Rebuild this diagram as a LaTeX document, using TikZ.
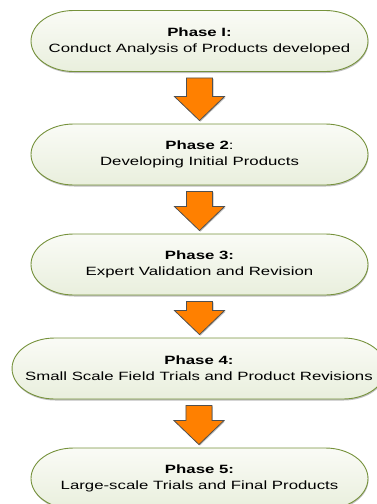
\documentclass[tikz,border=0pt]{standalone}
\usepackage{fontspec}
\setmainfont{Liberation Sans}
\usetikzlibrary{shapes.misc,calc,shadows}
\definecolor{boxline}{RGB}{118,146,60}
\definecolor{boxtop}{RGB}{250,251,246}
\definecolor{boxbot}{RGB}{233,239,221}
\definecolor{arrfill}{RGB}{255,128,0}
\definecolor{arrline}{RGB}{80,80,80}
\tikzset{
  phasebox/.style={rounded rectangle, draw=boxline, line width=0.9pt,
    top color=boxtop, bottom color=boxbot,
    minimum height=61pt, minimum width=240.7pt, inner sep=0pt,
    align=center, font=\fontsize{12}{16}\selectfont,
    drop shadow={shadow xshift=0.5pt, shadow yshift=-1.5pt, opacity=0.25, fill=black}},
  blockarr/.style={draw=arrline, line width=0.8pt, fill=arrfill, line join=miter,
    drop shadow={shadow xshift=1pt, shadow yshift=-1pt, opacity=0.25, fill=black}}
}
\newcommand\phasearrow[2]{%
  \draw[blockarr] let \p1=(#1.south), \p2=(#2.north) in
    (\x1-13pt,\y1-6pt) -- (\x1+13pt,\y1-6pt) -- (\x1+13pt,\y2+27pt) --
    (\x1+25pt,\y2+27pt) -- (\x1,\y2+3pt) -- (\x1-25pt,\y2+27pt) --
    (\x1-13pt,\y2+27pt) -- cycle;}
\begin{document}
\begin{tikzpicture}[x=1pt,y=1pt]
\useasboundingbox (0,0) rectangle (377,-504);
\clip (0,0) rectangle (377,-504);
\begin{scope}[xscale=1.4, transform shape]
  \node[phasebox] (b1) at (142.5,-41) {\textbf{Phase I:}\\Conduct Analysis of Products developed};
  \node[phasebox] (b2) at (142.5,-154.5) {\textbf{Phase 2}:\\Developing Initial Products};
  \node[phasebox] (b3) at (142.5,-264.5) {\textbf{Phase 3:}\\Expert Validation and Revision};
  \node[phasebox, minimum width=267pt] (b4) at (142.1,-368.5) {\textbf{Phase 4:}\\Small Scale Field Trials and Product Revisions};
  \node[phasebox] (b5) at (142.5,-478.5) {\textbf{Phase 5:}\\Large-scale Trials and Final Products};
\end{scope}
\phasearrow{b1}{b2}
\phasearrow{b2}{b3}
\phasearrow{b3}{b4}
\phasearrow{b4}{b5}
\end{tikzpicture}
\end{document}
